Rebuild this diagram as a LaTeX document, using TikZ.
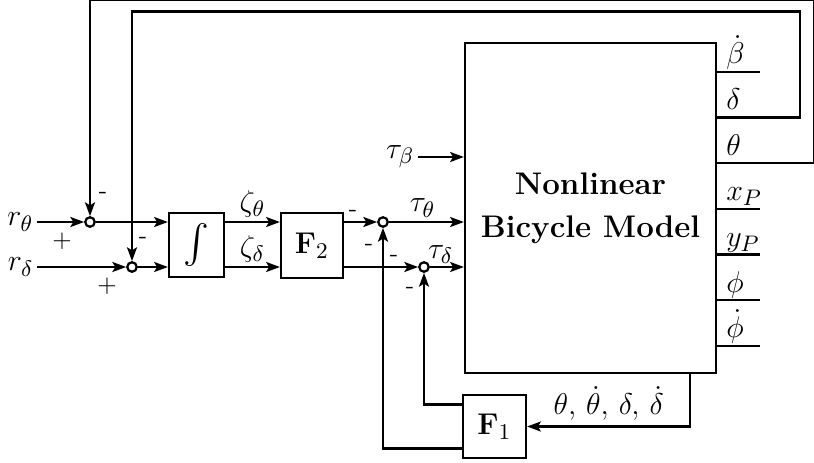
\documentclass[tikz,border=0pt]{standalone}
\usepackage{amsmath,amssymb}
\usepackage{tikz}
\usetikzlibrary{calc,arrows.meta}

\begin{document}
\begin{tikzpicture}[x=0.4pt, y=-0.4pt, line width=0.9pt,
    font=\fontsize{13}{16}\selectfont,
    >={Stealth[length=5.5pt, width=4pt, inset=1.2pt]},
    block/.style={draw, rectangle, inner sep=0pt},
    sumnode/.style={draw, circle, fill=white, inner sep=0pt, minimum size=3.8pt},
    sign/.style={inner sep=0pt, font=\fontsize{10}{12}\selectfont}]
    \useasboundingbox (0,0) rectangle (814,462);

    % Blocks
    \node[block, minimum width=22pt, minimum height=25.6pt,
          font=\fontsize{15.5}{18}\selectfont] (integ) at (196.5,245) {$\int$};
    \node[block, minimum width=24.8pt, minimum height=26pt] (Ftwo) at (312,245.5) {$\mathbf{F}_2$};
    \node[block, minimum width=25.2pt, minimum height=25.2pt] (Fone) at (494.5,426.5) {$\mathbf{F}_1$};
    \node[block, minimum width=100.4pt, minimum height=132pt, align=center,
          font=\fontsize{12.5}{17.2}\selectfont\bfseries] (bike) at (590.5,208) {Nonlinear\\Bicycle Model};

    % Summing junctions
    \node[sumnode] (sth) at (90,222) {};
    \node[sumnode] (sde) at (132,267) {};
    \node[sumnode] (tth) at (383,222) {};
    \node[sumnode] (tde) at (424,267) {};

    % References
    \node[anchor=east, inner sep=1pt] (rth) at (37,222) {$r_\theta$};
    \node[anchor=east, inner sep=1pt] (rde) at (37,267) {$r_\delta$};
    \draw[->] (rth) -- (sth);
    \draw[->] (rde) -- (sde);

    % Forward path
    \draw[->] (sth) -- (sth -| integ.west);
    \draw[->] (sde) -- (sde -| integ.west);
    \draw[->] (sth -| integ.east) -- node[above, inner sep=1.5pt] {$\zeta_\theta$} (sth -| Ftwo.west);
    \draw[->] (sde -| integ.east) -- node[above, inner sep=1.5pt] {$\zeta_\delta$} (sde -| Ftwo.west);
    \draw[->] (tth -| Ftwo.east) -- (tth);
    \draw[->] (tde -| Ftwo.east) -- (tde);
    \draw[->] (tth) -- node[above, pos=0.45, inner sep=1.5pt] {$\tau_\theta$} (tth -| bike.west);
    \draw[->] (tde) -- node[above, pos=0.32, inner sep=1pt] {$\tau_\delta$} (tde -| bike.west);

    % Disturbance torque
    \node[anchor=east, inner sep=1pt] (tb) at (418,157) {$\tau_\beta$};
    \draw[->] (tb) -- (tb -| bike.west);

    % Outputs
    \foreach \lab [count=\k from 0] in {\dot{\beta},\delta,\theta,x_P,y_P,\phi,\dot{\phi}} {
        \coordinate (out\k) at ($(bike.north east)+(0,30+45.67*\k)$);
        \node[anchor=base west, inner sep=0pt] (lab\k) at ($(out\k)+(8,-8)$) {$\lab$};
    }
    \foreach \k in {0,3,4,5,6}
        \draw (out\k) -- ++(43,0);

    % Outer feedback loops
    \draw[->] (out2) -- ++(97,0) -- ++(0,-163) -| (sth);
    \draw[->] (out1) -- ++(83,0) -- ++(0,-106) -| (sde);

    % Inner feedback through F1
    \coordinate (fb) at ($(bike.south east)+(-27,0)$);
    \draw[->] (fb) |- node[pos=0.75, above, inner sep=2pt] {$\theta,\,\dot{\theta},\,\delta,\,\dot{\delta}$} (Fone.east);
    \draw[->] ($(Fone.west)+(0,-22)$) -| (tde);
    \draw[->] ($(Fone.west)+(0,22)$) -| (tth);

    % Signs
    \node[sign] (m1) at (103,195) {-};
    \node[sign] (p1) at (62,241) {$+$};
    \node[sign] (m2) at (143,240) {-};
    \node[sign] (p2) at (107,286) {$+$};
    \node[sign] (m3) at (353,213) {-};
    \node[sign] (m4) at (369,247) {-};
    \node[sign] (m5) at (394,258) {-};
    \node[sign] (m6) at (410,290) {-};
\end{tikzpicture}
\end{document}
